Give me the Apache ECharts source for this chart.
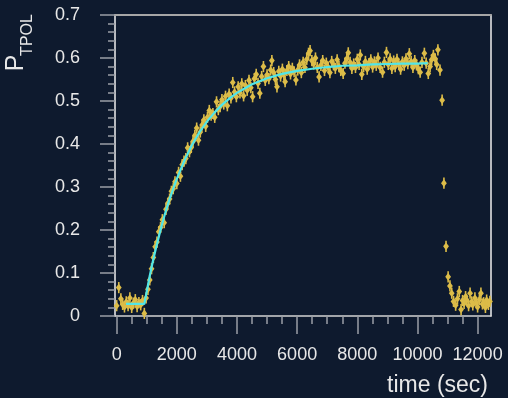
<!DOCTYPE html>
<html>
<head>
<meta charset="utf-8">
<script src="https://cdn.jsdelivr.net/npm/echarts@6/dist/echarts.min.js"></script>
<style>
html,body{margin:0;padding:0;background:#0e1a2e;}
#c{width:508px;height:398px;}
</style>
</head>
<body>
<div id="c"></div>
<script>
// measured points: [time (sec), P_TPOL]
var points = [
[0,0.024],[70,0.066],[140,0.040],[200,0.027],[260,0.021],[320,0.033],[380,0.024],[440,0.042],[500,0.020],[560,0.030],[620,0.038],[680,0.022],[740,0.031],[800,0.026],[860,0.036],[920,0.006],
[980,0.042],[1040,0.062],[1100,0.084],[1160,0.110],[1220,0.136],[1280,0.161],[1340,0.172],[1400,0.196],[1460,0.206],[1520,0.224],[1580,0.217],[1640,0.248],[1700,0.262],[1760,0.272],[1820,0.290],[1880,0.296],[1940,0.312],
[2000,0.308],[2060,0.334],[2120,0.325],[2180,0.352],[2240,0.360],[2300,0.366],[2360,0.391],[2420,0.382],[2480,0.392],[2540,0.406],[2600,0.420],[2660,0.437],[2720,0.409],[2780,0.428],[2840,0.444],[2900,0.456],[2960,0.441],[3020,0.462],[3080,0.478],[3140,0.467],[3200,0.471],[3260,0.462],[3320,0.498],[3380,0.480],[3440,0.487],[3500,0.503],[3560,0.493],[3620,0.511],[3680,0.489],[3740,0.516],[3800,0.507],[3860,0.543],[3920,0.521],[3980,0.510],
[4040,0.533],[4100,0.519],[4160,0.540],[4220,0.512],[4280,0.536],[4340,0.525],[4400,0.548],[4460,0.531],[4520,0.510],[4580,0.552],[4640,0.562],[4700,0.541],[4760,0.518],[4820,0.557],[4880,0.580],[4940,0.548],[5000,0.561],[5060,0.552],[5120,0.572],[5160,0.594],[5220,0.566],[5280,0.550],[5330,0.533],[5390,0.569],[5450,0.558],[5510,0.574],[5560,0.562],[5600,0.545],[5660,0.571],[5720,0.580],[5780,0.563],[5840,0.576],[5900,0.568],[5960,0.549],
[6020,0.572],[6080,0.584],[6140,0.566],[6200,0.590],[6260,0.578],[6320,0.597],[6380,0.611],[6430,0.617],[6490,0.594],[6550,0.586],[6610,0.600],[6670,0.578],[6730,0.556],[6790,0.583],[6850,0.594],[6910,0.571],[6970,0.588],[7030,0.579],[7090,0.566],[7150,0.592],[7210,0.584],[7270,0.576],[7330,0.596],[7390,0.580],[7450,0.571],[7530,0.564],[7590,0.588],[7650,0.598],[7700,0.612],[7760,0.590],[7820,0.576],[7880,0.586],[7940,0.578],
[8000,0.597],[8060,0.585],[8100,0.607],[8150,0.562],[8210,0.580],[8270,0.592],[8330,0.574],[8390,0.587],[8450,0.596],[8510,0.579],[8570,0.591],[8630,0.583],[8690,0.600],[8760,0.578],[8840,0.567],[8900,0.590],[8970,0.613],[9030,0.585],[9090,0.598],[9150,0.576],[9210,0.593],[9260,0.580],[9320,0.597],[9380,0.586],[9440,0.574],[9500,0.591],[9560,0.583],[9620,0.598],[9680,0.587],[9730,0.610],[9790,0.592],[9850,0.578],[9910,0.594],[9970,0.584],
[10030,0.575],[10090,0.567],[10150,0.590],[10230,0.611],[10290,0.588],[10360,0.564],[10420,0.580],[10470,0.596],[10530,0.606],[10590,0.598],[10640,0.585],[10680,0.619],[10750,0.572],
[10820,0.502],[10880,0.309],[10950,0.162],[11020,0.091],[11080,0.070],[11140,0.053],[11200,0.034],[11270,0.025],[11330,0.040],[11390,0.057],[11450,0.015],[11500,0.036],[11550,0.029],[11600,0.045],[11640,0.037],[11700,0.024],[11750,0.053],[11800,0.033],[11840,0.026],[11910,0.042],[11960,0.030],[12000,0.021],[12060,0.038],[12110,0.053],[12160,0.028],[12200,0.031],[12260,0.020],[12300,0.037],[12360,0.027],[12410,0.034]
];
var errHalf = 0.013;

// fitted curve: [time, P_TPOL]
var fit = [
[310,0.028],[920,0.028],[1000,0.057],[1100,0.093],[1200,0.126],[1300,0.156],[1400,0.184],[1500,0.211],[1600,0.236],[1750,0.270],[1900,0.300],[2000,0.319],[2250,0.361],[2500,0.397],[2750,0.427],[3000,0.452],[3250,0.473],[3500,0.491],[3750,0.506],[4000,0.519],[4500,0.539],[5000,0.553],[5500,0.563],[6000,0.570],[6500,0.575],[7000,0.579],[7500,0.582],[8000,0.583],[8500,0.585],[9000,0.586],[9500,0.587],[10000,0.587],[10340,0.588]
];

var xTicks = {min: 0, max: 12000, step: 2000};
var yTicks = {min: 0, max: 0.7, step: 0.1};
var xTitle = 'time (sec)';
var yTitleMain = 'P';
var yTitleSub = 'TPOL';

var FONT = 'Liberation Sans, Arial, Helvetica, sans-serif';
var TXT = '#e8e8e8';
var PT = '#dcbc48';
var FIT = '#50e6e8';
var TICK = '#9a9ea6';

var chart = echarts.init(document.getElementById('c'), null, {renderer: 'canvas'});

var L = 115, R = 17, T = 15, B = 82;
var plotW = 508 - L - R;          // 376
var xMinData = -55, xMaxData = 12445;
var pxPer = plotW / (xMaxData - xMinData);
var tickLeft = L + (0 - xMinData) * pxPer;
var tickWidth = (xTicks.max - xTicks.min) * pxPer;

var option = {
  backgroundColor: '#0e1a2e',
  animation: false,
  grid: [
    {left: L, right: R, top: T, bottom: B, containLabel: false},
    {left: tickLeft, width: tickWidth, top: T, bottom: B, containLabel: false}
  ],
  xAxis: [
    {type: 'value', gridIndex: 0, min: xMinData, max: xMaxData, position: 'bottom',
     axisLine: {show: true, onZero: false, lineStyle: {color: '#d4d4d4', width: 1.5}},
     axisTick: {show: false}, axisLabel: {show: false}, splitLine: {show: false}},
    {type: 'value', gridIndex: 1, min: xTicks.min, max: xTicks.max, interval: xTicks.step, position: 'bottom',
     axisLine: {show: false, onZero: false},
     axisTick: {show: true, length: 18, lineStyle: {color: TICK, width: 1.5}},
     minorTick: {show: true, splitNumber: 4, length: 8, lineStyle: {color: TICK, width: 1.5}},
     axisLabel: {show: true, margin: 30, fontSize: 18, color: TXT, fontFamily: FONT,
                 formatter: function (v) { return String(v); }},
     splitLine: {show: false}},
    {type: 'value', gridIndex: 0, min: xMinData, max: xMaxData, position: 'top',
     axisLine: {show: true, onZero: false, lineStyle: {color: '#a6a6a6', width: 2}},
     axisTick: {show: false}, axisLabel: {show: false}, splitLine: {show: false}}
  ],
  yAxis: [
    {type: 'value', gridIndex: 0, min: yTicks.min, max: yTicks.max, interval: yTicks.step, position: 'left',
     axisLine: {show: true, onZero: false, lineStyle: {color: '#f0f0f0', width: 1.5}},
     axisTick: {show: true, length: 15, lineStyle: {color: TICK, width: 1.5}},
     minorTick: {show: true, splitNumber: 5, length: 7, lineStyle: {color: TICK, width: 1.5}},
     axisLabel: {show: true, margin: 35, fontSize: 18, color: TXT, fontFamily: FONT,
                 formatter: function (v) { return v === 0 ? '0' : v.toFixed(1); }},
     splitLine: {show: false}},
    {type: 'value', gridIndex: 0, min: yTicks.min, max: yTicks.max, position: 'right',
     axisLine: {show: true, onZero: false, lineStyle: {color: '#f0f0f0', width: 1.5}},
     axisTick: {show: false}, axisLabel: {show: false}, splitLine: {show: false}},
    {type: 'value', gridIndex: 1, show: false, min: 0, max: 1}
  ],
  series: [
    {
      type: 'custom', xAxisIndex: 0, yAxisIndex: 0, z: 2, clip: false,
      data: points,
      renderItem: function (params, api) {
        var x = api.value(0), y = api.value(1);
        var p = api.coord([x, y]);
        var top = api.coord([x, y + errHalf]);
        var bot = api.coord([x, y - errHalf]);
        return {
          type: 'group',
          children: [
            {type: 'line', shape: {x1: p[0], y1: top[1], x2: p[0], y2: bot[1]},
             style: {stroke: PT, lineWidth: 1.6}},
            {type: 'polygon', shape: {points: [[p[0], p[1] - 3.8], [p[0] + 2.9, p[1]], [p[0], p[1] + 3.8], [p[0] - 2.9, p[1]]]},
             style: {fill: PT}}
          ]
        };
      }
    },
    {
      type: 'line', xAxisIndex: 0, yAxisIndex: 0, z: 3,
      data: fit, showSymbol: false, symbol: 'none', smooth: false,
      lineStyle: {color: FIT, width: 2.2}
    }
  ],
  graphic: [
    {type: 'text', x: 16, y: 63, rotation: Math.PI / 2,
     style: {text: yTitleMain, fontSize: 25, fontFamily: FONT, fill: TXT, align: 'center', verticalAlign: 'middle'}},
    {type: 'text', x: 28, y: 35, rotation: Math.PI / 2,
     style: {text: yTitleSub, fontSize: 16, fontFamily: FONT, fill: TXT, align: 'center', verticalAlign: 'middle'}},
    {type: 'text', x: 488, y: 386,
     style: {text: xTitle, fontSize: 23, fontFamily: FONT, fill: TXT, align: 'right', verticalAlign: 'middle'}}
  ]
};
chart.setOption(option);
</script>
</body>
</html>
